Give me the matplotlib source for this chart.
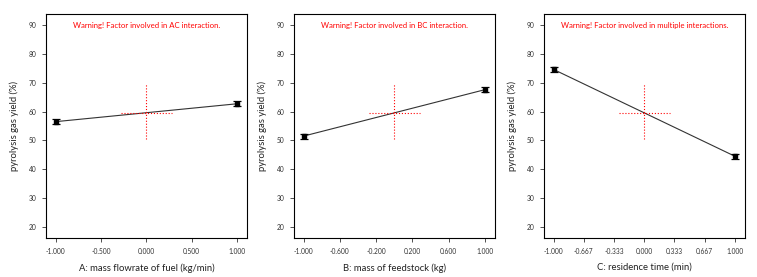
import matplotlib
import matplotlib.pyplot as plt
import numpy as np

matplotlib.use("Agg")

plt.rcParams.update({
    "font.family": ["Lato", "DejaVu Sans"],
    "axes.linewidth": 0.8,
    "xtick.labelsize": 4.8,
    "ytick.labelsize": 4.8,
})

levels = [-1.0, 1.0]
yield_a = [56.5, 62.7]
yield_b = [51.5, 67.6]
yield_c = [74.6, 44.5]
err = [0.9, 0.9]

ticks_a = [-1.0, -0.5, 0.0, 0.5, 1.0]
ticks_b = [-1.0, -0.6, -0.2, 0.2, 0.6, 1.0]
ticks_c = [-1.0, -0.667, -0.333, 0.0, 0.333, 0.667, 1.0]

xlabels = ["A: mass flowrate of fuel (kg/min)",
           "B: mass of feedstock (kg)",
           "C: residence time (min)"]
warnings = ["Warning! Factor involved in AC interaction.",
            "Warning! Factor involved in BC interaction.",
            "Warning! Factor involved in multiple interactions."]

center_y = 59.6
yticks = [20, 30, 40, 50, 60, 70, 80, 90]

W, H = 757, 277
fig = plt.figure(figsize=(W / 100, H / 100), dpi=100)
lefts = [46, 294, 544]
series = [yield_a, yield_b, yield_c]
xt = [ticks_a, ticks_b, ticks_c]

for i in range(3):
    ax = fig.add_axes([lefts[i] / W, 1 - 238 / H, 201 / W, 224 / H])
    ax.plot(levels, series[i], color="#333333", lw=0.8)
    ax.errorbar(levels, series[i], yerr=err, fmt="s", color="black",
                ms=3, capsize=3.2, elinewidth=0.9, capthick=0.9)
    ax.plot([0, 0], [50.5, 69.5], color="red", ls=":", lw=0.8)
    ax.plot([-0.28, 0.28], [center_y, center_y], color="red", ls=":", lw=0.8)
    ax.set_xlim(-1.105, 1.11)
    ax.set_ylim(16.2, 93.8)
    ax.set_xticks(xt[i])
    ax.set_xticklabels([f"{t:.3f}" for t in xt[i]])
    ax.set_yticks(yticks)
    ax.tick_params(length=3, width=0.6, pad=4, colors="#333333")
    ax.set_xlabel(xlabels[i], fontsize=6.8, labelpad=6, color="#222222")
    ax.set_ylabel("pyrolysis gas yield (%)", fontsize=6.8, labelpad=7, color="#222222")
    ax.text(0.5, 0.965, warnings[i], transform=ax.transAxes, color="red",
            fontsize=5.6, ha="center", va="top")

fig.savefig("out.png", dpi=100)
